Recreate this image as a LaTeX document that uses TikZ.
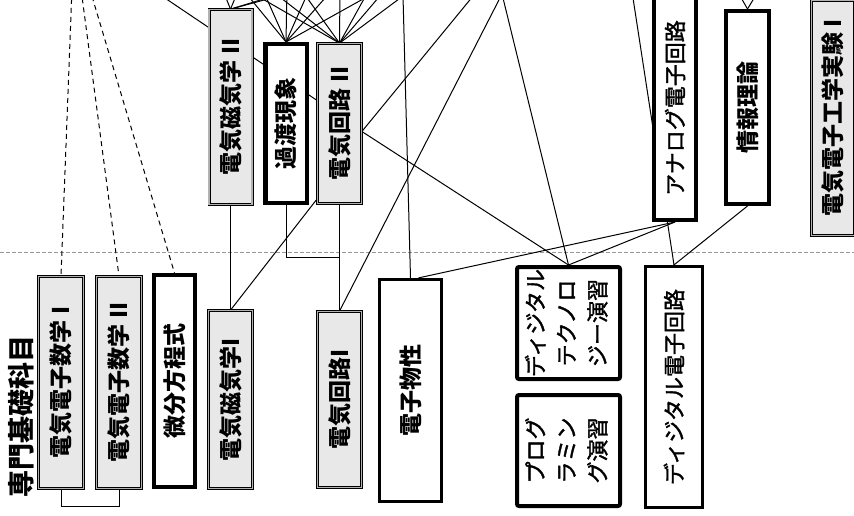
\documentclass[tikz,border=0pt]{standalone}
\usepackage{fontspec}
\usepackage{graphicx}
\usetikzlibrary{backgrounds,calc}
\newfontfamily\jp{Noto Sans CJK JP}
\newfontfamily\jpm[FakeBold=1.6]{Noto Sans CJK JP}
\newcommand\rottxt[1]{\rotatebox{90}{#1}}
\begin{document}
\begin{tikzpicture}[x=1pt,y=-1pt,
  dbox/.style={draw=black, line width=0.7pt, double=black!30, double distance=1.6pt,
    fill=black!9, inner sep=0pt, font=\jp\bfseries\fontsize{23}{31}\selectfont},
  tbox/.style={draw=black, line width=4pt, fill=white, inner sep=0pt,
    font=\jp\bfseries\fontsize{23}{31}\selectfont},
  kbox/.style={draw=black, line width=4pt, fill=white, inner sep=0pt,
    font=\jpm\fontsize{22}{31}\selectfont},
  conn/.style={line width=1pt, black},
  dconn/.style={line width=1pt, black, dash pattern=on 5pt off 4pt},
  sep/.style={line width=0.8pt, black!40, dash pattern=on 4pt off 2pt}]
\useasboundingbox (0,0) rectangle (854,516);

% ---- lower band ----
\node[font=\jp\bfseries\fontsize{27}{31}\selectfont] (lbl) at (21,416) {\rottxt{専門基礎科目}};
\node[dbox, minimum width=45, minimum height=212] (m1) at (61,382.5) {\rottxt{電気電子数学 I}};
\node[dbox, minimum width=45, minimum height=212] (m2) at (119,382.5) {\rottxt{電気電子数学 II}};
\node[tbox, minimum width=41, minimum height=212] (bib) at (174.5,381) {\rottxt{微分方程式}};
\node[dbox, minimum width=44, minimum height=178] (em1) at (230.5,399.5) {\rottxt{電気磁気学I}};
\node[dbox, minimum width=44, minimum height=176] (ec1) at (339.5,399.5) {\rottxt{電気回路I}};
\node[tbox, line width=3.2pt, minimum width=62, minimum height=222] (bus) at (410.5,390.5) {\rottxt{電子物性}};
\node[kbox, rounded corners=2pt, minimum width=103, minimum height=112] (dt) at (568.5,323)
  {\rottxt{\begin{tabular}{@{}c@{}}ディジタル\\テクノロ\\ジー演習\end{tabular}}};
\node[kbox, rounded corners=2pt, minimum width=103, minimum height=111] (pg) at (568.5,450.5)
  {\rottxt{\begin{tabular}{@{}c@{}}プログ\\ラミン\\グ演習\end{tabular}}};
\node[kbox, line width=3.2pt, minimum width=57, minimum height=241] (dc) at (674,387) {\rottxt{ディジタル電子回路}};

% ---- upper band ----
\node[dbox, minimum width=43, minimum height=195] (em2) at (230.5,107) {\rottxt{電気磁気学 II}};
\node[tbox, line width=4.5pt, minimum width=41.5, minimum height=158.5] (kt) at (286,123.5) {\rottxt{過渡現象}};
\node[dbox, minimum width=44, minimum height=160] (ec2) at (339.5,123.5) {\rottxt{電気回路 II}};
\node[kbox, minimum width=42, minimum height=224] (an) at (675,108) {\rottxt{アナログ電子回路}};
\node[tbox, minimum width=43, minimum height=193] (jr) at (747.5,107.5) {\rottxt{情報理論}};
\node[dbox, minimum width=43, minimum height=235] (ex) at (833,118) {\rottxt{電気電子工学実験 I}};

% free ends (sources above the visible part)
\coordinate (tA) at (74,-64);
\coordinate (P5) at (502,-6);
\coordinate (P6) at (403,-4);
\coordinate (Q1) at (478,-10);
\coordinate (P9) at (631,-15);
\coordinate (J1) at (731,-20);
\coordinate (J2) at (765,-20);
\coordinate (H1) at (150,-12);
\coordinate (T1) at (222,-12);
\coordinate (T2) at (240,-14);
\coordinate (T3) at (280,-6);
\coordinate (T4) at (308,-12);
\coordinate (U1) at (262,-12);
\coordinate (U2) at (287,-12);
\coordinate (U3) at (310,-12);
\coordinate (U4) at (334,-12);
\coordinate (U5) at (372,-6);
\coordinate (V1) at (268,-12);
\coordinate (V2) at (300,-12);
\coordinate (V3) at (340,-12);
\coordinate (V4) at (370,-12);
\coordinate (V5) at (385,-10);
\coordinate (j1) at (339.5,257);
\coordinate (ec2r) at ($(ec2.east)+(0,8)$);
\coordinate (ec2l) at ($(ec2.west)+(0,-23)$);
\coordinate (ec2b) at ($(ec2.south west)+(0,-5)$);
\coordinate (busr) at ($(bus.north)+(8,0)$);

\begin{scope}[on background layer]
  \fill[white] (0,0) rectangle (854,516);
  \draw[sep] (0,252) -- (854,252);
  % dashed links
  \draw[dconn] (tA) -- (m1.north);
  \draw[dconn] (tA) -- (m2.north);
  \draw[dconn] (tA) -- (bib.north);
  % vertical / orthogonal links
  \draw[conn] (em2.south) -- (em1.north);
  \draw[conn] (ec2.south) -- (ec1.north);
  \draw[conn] (kt.south) |- (j1);
  \draw[conn] (m1.south) -- ++(0,18) -| (m2.south);
  % diagonal links
  \draw[conn] (em1.north) -- (ec2b);
  \draw[conn] (ec1.north) -- (P5);
  \draw[conn] (P5) -- (dt.north);
  \draw[conn] (ec2r) -- (Q1);
  \draw[conn] (ec2r) -- (dt.north);
  \draw[conn] (P6) -- (bus.north);
  \draw[conn] (an.south) -- (busr);
  \draw[conn] (an.south) -- (dt.north);
  \draw[conn] (P9) -- (dc.north);
  \draw[conn] (jr.south) -- (dc.north);
  \draw[conn] (J1) -- (jr.north);
  \draw[conn] (J2) -- (jr.north);
  \draw[conn] (H1) -- (ec2l);
  % fan into the upper boxes
  \foreach \s in {T1,T2,T3,T4} \draw[conn] (\s) -- (em2.north);
  \foreach \s in {T2,U1,U2,U3,U4,U5} \draw[conn] (\s) -- (kt.north);
  \foreach \s in {T2,V1,V2,V3,V4,V5,P6} \draw[conn] (\s) -- (ec2.north);
\end{scope}
\end{tikzpicture}
\end{document}
